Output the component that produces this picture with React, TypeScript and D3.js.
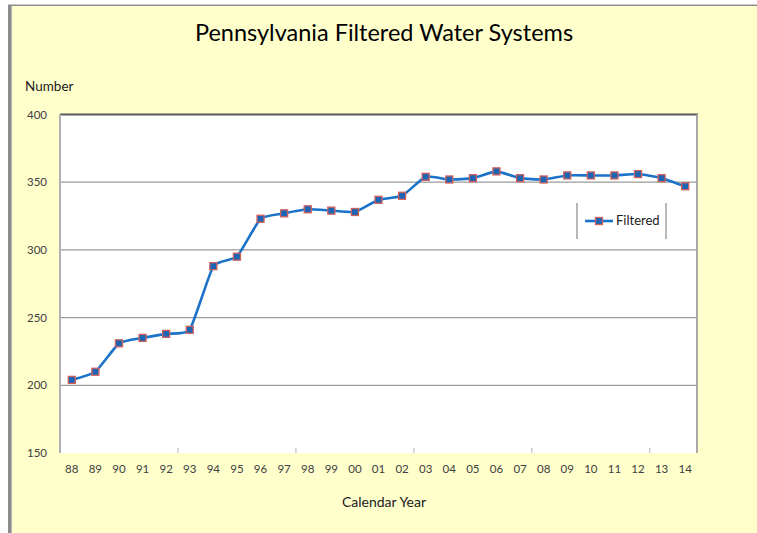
import React, { useEffect, useRef } from 'react';
import * as d3 from 'd3';

// calendar years, two-digit labels
const years = [
  '88', '89', '90', '91', '92', '93', '94', '95', '96', '97', '98', '99', '00',
  '01', '02', '03', '04', '05', '06', '07', '08', '09', '10', '11', '12', '13', '14',
];
// number of filtered water systems
const filtered = [
  204, 210, 231, 235, 238, 241, 288, 295, 323, 327, 330, 329, 328,
  337, 340, 354, 352, 353, 358, 353, 352, 355, 355, 355, 356, 353, 347,
];
const yTicks = [150, 200, 250, 300, 350, 400];
const seriesName = 'Filtered';

const W = 757;
const H = 533;
const FONT = 'Lato, "Open Sans", sans-serif';

const App = () => {
  const ref = useRef<SVGSVGElement | null>(null);

  useEffect(() => {
    if (!ref.current) return;
    const svg = d3.select(ref.current);
    svg.selectAll('*').remove();

    // outer chart frame
    svg.append('rect').attr('x', 8).attr('y', 4).attr('width', W - 8).attr('height', H - 4).attr('fill', '#c8c8c8');
    svg.append('rect').attr('x', 8).attr('y', 5).attr('width', W - 8).attr('height', H - 5).attr('fill', '#8c8c8c');
    svg.append('rect').attr('x', 11).attr('y', 6).attr('width', W - 11).attr('height', H - 6).attr('fill', '#b4b4b4');
    svg.append('rect').attr('x', 12).attr('y', 6).attr('width', W - 12).attr('height', H - 6).attr('fill', '#ffffcc');

    const margin = { left: 60, right: 697, top: 114.5, bottom: 453 };

    const x = d3.scaleBand().domain(years).range([margin.left, margin.right]);
    const y = d3.scaleLinear().domain([150, 400]).range([margin.bottom, margin.top]);

    // plot area
    svg.append('rect')
      .attr('x', margin.left).attr('y', margin.top)
      .attr('width', margin.right - margin.left).attr('height', margin.bottom - margin.top)
      .attr('fill', '#ffffff');

    // gridlines
    svg.append('g')
      .selectAll('line')
      .data(yTicks.filter((t) => t > 150 && t < 400))
      .join('line')
      .attr('x1', margin.left).attr('x2', margin.right)
      .attr('y1', (d) => y(d)).attr('y2', (d) => y(d))
      .attr('stroke', '#9a9a9a').attr('stroke-width', 1.2);

    // frame lines of the plot
    svg.append('line')
      .attr('x1', margin.left).attr('x2', margin.right + 1)
      .attr('y1', margin.top).attr('y2', margin.top)
      .attr('stroke', '#5a5a5a').attr('stroke-width', 2);
    svg.append('line')
      .attr('x1', margin.left).attr('x2', margin.left)
      .attr('y1', margin.top).attr('y2', margin.bottom)
      .attr('stroke', '#b0b0b0').attr('stroke-width', 2);
    svg.append('line')
      .attr('x1', margin.right).attr('x2', margin.right)
      .attr('y1', margin.top).attr('y2', margin.bottom)
      .attr('stroke', '#a8a8a8').attr('stroke-width', 2);

    // minor category ticks every 5 years
    const tickYears = years.filter((_, i) => i > 0 && i % 5 === 0);
    svg.append('g')
      .selectAll('line')
      .data(tickYears)
      .join('line')
      .attr('x1', (d) => x(d)!).attr('x2', (d) => x(d)!)
      .attr('y1', margin.bottom - 5).attr('y2', margin.bottom)
      .attr('stroke', '#b0b0b0').attr('stroke-width', 1);

    // y labels
    svg.append('g')
      .selectAll('text')
      .data(yTicks)
      .join('text')
      .attr('x', 47).attr('y', (d) => y(d) + 4)
      .attr('text-anchor', 'end')
      .attr('font-family', FONT).attr('font-size', 11.5)
      .attr('fill', '#404040')
      .text((d) => d);

    // x labels
    svg.append('g')
      .selectAll('text')
      .data(years)
      .join('text')
      .attr('x', (d) => x(d)! + x.bandwidth() / 2).attr('y', 473)
      .attr('text-anchor', 'middle')
      .attr('font-family', FONT).attr('font-size', 11.5)
      .attr('fill', '#404040')
      .text((d) => d);

    // titles
    svg.append('text')
      .attr('x', 384).attr('y', 41)
      .attr('text-anchor', 'middle')
      .attr('font-family', FONT).attr('font-size', 23.5)
      .attr('fill', '#000')
      .text('Pennsylvania Filtered Water Systems');
    svg.append('text')
      .attr('x', 25).attr('y', 91)
      .attr('font-family', FONT).attr('font-size', 13.5)
      .attr('fill', '#202020')
      .text('Number');
    svg.append('text')
      .attr('x', 384).attr('y', 507)
      .attr('text-anchor', 'middle')
      .attr('font-family', FONT).attr('font-size', 14)
      .attr('fill', '#202020')
      .text('Calendar Year');

    // series line, lightly smoothed
    const line = d3.line<number>()
      .x((_, i) => x(years[i])! + x.bandwidth() / 2)
      .y((d) => y(d))
      .curve(d3.curveCardinal.tension(0.55));

    svg.append('path')
      .datum(filtered)
      .attr('d', line)
      .attr('fill', 'none')
      .attr('stroke', '#1a73c8')
      .attr('stroke-width', 2.6);

    const ms = 7;
    svg.append('g')
      .selectAll('rect')
      .data(filtered)
      .join('rect')
      .attr('x', (_, i) => x(years[i])! + x.bandwidth() / 2 - ms / 2)
      .attr('y', (d) => y(d) - ms / 2)
      .attr('width', ms).attr('height', ms)
      .attr('fill', '#1c64b4')
      .attr('stroke', '#d0605c').attr('stroke-width', 1.3);

    // legend
    const lg = svg.append('g');
    lg.append('line').attr('x1', 577).attr('x2', 577).attr('y1', 203).attr('y2', 239)
      .attr('stroke', '#a0a0a0').attr('stroke-width', 1.5);
    lg.append('line').attr('x1', 666).attr('x2', 666).attr('y1', 203).attr('y2', 239)
      .attr('stroke', '#a0a0a0').attr('stroke-width', 1.5);
    lg.append('line').attr('x1', 585).attr('x2', 613).attr('y1', 221).attr('y2', 221)
      .attr('stroke', '#1a73c8').attr('stroke-width', 2.6);
    lg.append('rect').attr('x', 599 - ms / 2).attr('y', 221 - ms / 2)
      .attr('width', ms).attr('height', ms)
      .attr('fill', '#1c64b4').attr('stroke', '#d0605c').attr('stroke-width', 1.3);
    lg.append('text').attr('x', 616).attr('y', 225)
      .attr('font-family', FONT).attr('font-size', 13)
      .attr('fill', '#202020')
      .text(seriesName);
  }, []);

  return (
    <svg
      ref={ref}
      width={W}
      height={H}
      style={{ position: 'absolute', left: 0, top: 0, display: 'block' }}
    />
  );
};

export default App;
